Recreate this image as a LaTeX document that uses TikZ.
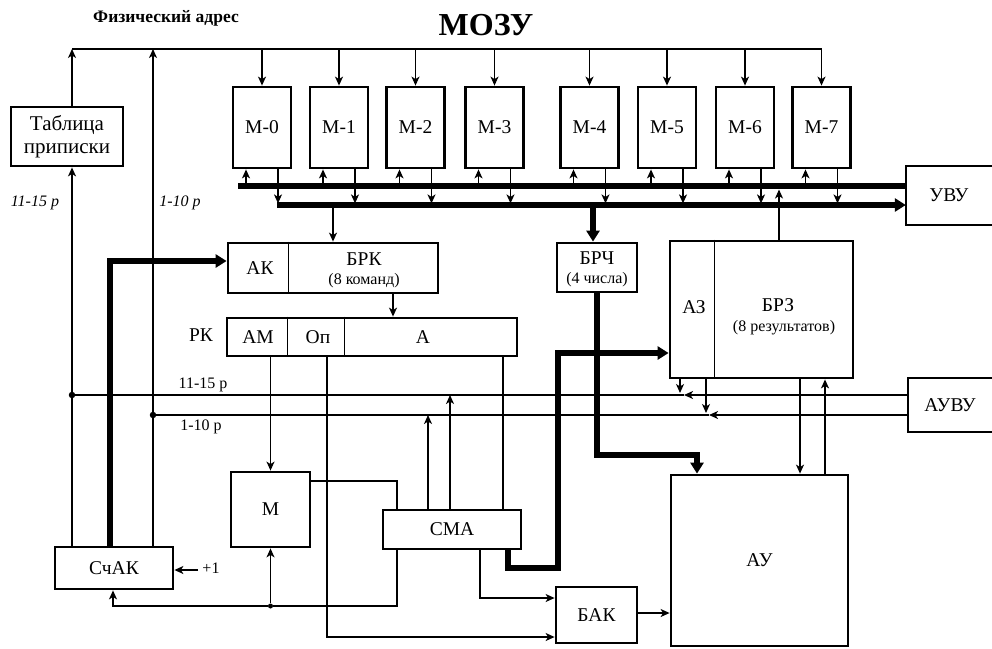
\documentclass[tikz,border=0pt]{standalone}
\usepackage{fontspec}
\setmainfont{Liberation Serif}
\usetikzlibrary{arrows.meta,calc}
\begin{document}
\begin{tikzpicture}[x=1pt,y=-1pt,
  box/.style={draw,line width=2.8pt,rectangle,inner sep=0pt},
  lbl/.style={font=\fontsize{19.5}{21}\selectfont,inner sep=0pt},
  sub/.style={font=\fontsize{16}{18}\selectfont,inner sep=0pt},
  ln/.style={line width=1.4pt},
  arr/.style={line width=1.4pt,-{Stealth[length=9pt,width=8pt,inset=2.5pt]}},
  thk/.style={line width=6pt},
  tarr/.style={line width=6pt,-{Triangle[length=11pt,width=13pt]}},
  dot/.style={circle,fill,inner sep=0pt,minimum size=6.5pt},
  rlab/.style={font=\fontsize{16}{18}\selectfont,inner sep=0pt},
  rlabi/.style={font=\itshape\fontsize{16}{18}\selectfont,inner sep=0pt},
]
\useasboundingbox (0,0) rectangle (992,648);

% titles
\node[font=\bfseries\fontsize{17.5}{19}\selectfont,inner sep=0pt] (ttl1) at (166,18) {Физический адрес};
\node[font=\bfseries\fontsize{32}{34}\selectfont,inner sep=0pt] (ttl2) at (486,25) {МОЗУ};

% memory modules
\foreach \n/\c in {0/262,1/339,2/415.5,3/494.5,4/589.5,5/667,6/745,7/821.5}
  \node[box,lbl,minimum width=58pt,minimum height=81pt] (m\n) at (\c,127.5) {М-\n};

% boxes
\node[box,align=center,font=\fontsize{21}{23}\selectfont,minimum width=112pt,minimum height=59pt] (tab) at (67,136.5) {Таблица\\приписки};
\node[box,lbl,minimum width=118pt,minimum height=42pt] (sch) at (114,568) {СчАК};
\node[box,minimum width=210pt,minimum height=50pt] (brk) at (333,268) {};
\node[box,minimum width=290pt,minimum height=38pt] (rk) at (372,337) {};
\node[box,minimum width=80pt,minimum height=49pt] (brch) at (597,267.5) {};
\node[box,minimum width=183pt,minimum height=137pt] (brz) at (761.5,309.5) {};
\node[box,lbl,minimum width=79pt,minimum height=75pt] (mm) at (270.5,509.5) {М};
\node[box,lbl,minimum width=138pt,minimum height=39pt] (cma) at (452,529.5) {СМА};
\node[box,lbl,minimum width=81pt,minimum height=56pt] (bak) at (596.5,615) {БАК};
\node[box,lbl,minimum width=177pt,minimum height=171pt] (au) at (759.5,560.5) {АУ};
\node[lbl,minimum width=86pt,minimum height=59pt] (uvu) at (949,195.5) {УВУ};
\draw[line width=1.8pt] (uvu.north east) -- (uvu.north west) -- (uvu.south west) -- (uvu.south east);
\node[lbl,minimum width=84pt,minimum height=54pt] (auvu) at (950,405) {АУВУ};
\draw[line width=1.8pt] (auvu.north east) -- (auvu.north west) -- (auvu.south west) -- (auvu.south east);

% dividers and inner texts
\draw[ln] ($(brk.north west)+(62,0)$) -- ($(brk.south west)+(62,0)$);
\node[lbl] (ak) at (260,268) {АК};
\node[lbl] (brkt) at (364,259) {БРК};
\node[sub] (brks) at (364,281) {(8 команд)};
\draw[ln] ($(rk.north west)+(62,0)$) -- ($(rk.south west)+(62,0)$);
\draw[ln] ($(rk.north west)+(119,0)$) -- ($(rk.south west)+(119,0)$);
\node[lbl] (am) at (258,337) {АМ};
\node[lbl] (op) at (318,337) {Оп};
\node[lbl] (afield) at (423,337) {А};
\node[lbl] (rkl) at (201,335) {РК};
\node[lbl] (brcht) at (597,258) {БРЧ};
\node[sub] (brchs) at (597,280) {(4 числа)};
\draw[ln] ($(brz.north west)+(46,0)$) -- ($(brz.south west)+(46,0)$);
\node[lbl] (az) at (694,307) {АЗ};
\node[lbl] (brzt) at (778,305) {БРЗ};
\node[sub] (brzs) at (784,328) {(8 результатов)};

% helper coordinates
\coordinate (xa) at (72,0);
\coordinate (xb) at (110,0);
\coordinate (xc) at (153,0);
\coordinate (tl) at (72,49);
\coordinate (ub) at (0,186);
\coordinate (lb) at (0,205);
\coordinate (ya) at (0,395);
\coordinate (yb) at (0,415);

% top address bus
\draw[line width=1.8pt] (tl) -- (m7.north |- tl);
\foreach \n in {0,...,7} {
  \draw[arr] (m\n.north |- tl) -- (m\n.north);
  \draw[arr] ($(m\n.south)+(-16,18)$) -- ($(m\n.south)+(-16,0)$);
  \draw[arr] ($(m\n.south)+(16,0)$) -- ($(m\n.south)+(16,34)$);
}
\draw[arr] (tab.north -| xa) -- (tl);
\draw[arr] (sch.north -| xa) -- (tab.south -| xa);
\draw[arr] (sch.north -| xc) -- (xc |- tl);
\node[rlabi] (l1115a) at (35,203) {11-15 р};
\node[rlabi] (l110a) at (180,203) {1-10 р};

% data buses
\draw[thk] (238,186) -- (uvu.west |- ub);
\draw[tarr] (277,205) -- (uvu.west |- lb);
\draw[arr] (brk.north |- lb) -- (brk.north);
\draw[tarr] (593,205) -- (brch.north -| 593,0);
\draw[arr] (brz.north -| 779,0) -- (779,189.5);

% counter to AK
\draw[tarr] (sch.north -| xb) -- (110,261) -- (brk.west |- 0,261);
\coordinate (p1) at (198,570);
\draw[arr] (p1) -- (sch.east |- p1);
\node[rlab] (plus) at (211,568) {+1};

% address lines 11-15 and 1-10
\node[dot] (d1) at (xa |- ya) {};
\node[dot] (d2) at (xc |- yb) {};
\coordinate (ja) at (684,395);
\coordinate (jb) at (709,415);
\draw[arr] (auvu.west |- ya) -- (ja);
\draw[ln] (ja) -- (d1);
\draw[arr] (auvu.west |- yb) -- (jb);
\draw[ln] (jb) -- (d2);
\draw[arr] (brz.south -| 680,0) -- (680,393);
\draw[arr] (brz.south -| 706,0) -- (706,413);
\node[rlab] (l1115b) at (203,385) {11-15 р};
\node[rlab] (l110b) at (201,427) {1-10 р};

% РК outputs
\draw[arr] (brk.south -| 393,0) -- (rk.north -| 393,0);
\draw[arr] (rk.south -| mm.north) -- (mm.north);
\draw[arr] (rk.south -| 327,0) -- (327,637) -- (bak.west |- 0,637);
\draw[ln] (rk.south -| 503,0) -- (cma.north -| 503,0);

% СМА connections
\draw[arr] (cma.north -| 428,0) -- (428,415);
\draw[arr] (cma.north -| 450,0) -- (450,395);
\draw[ln] (mm.east |- 0,481) -- (397,481) -- (cma.north -| 397,0);
\node[dot,minimum size=5pt] (d3) at (mm.south |- 0,606) {};
\draw[ln] (cma.south -| 397,0) -- (397,606) -- (d3);
\draw[arr] (d3) -- (113,606) -- (sch.south -| 113,0);
\draw[arr] (d3) -- (mm.south);
\draw[arr] (cma.south -| 480,0) -- (480,598) -- (bak.west |- 0,598);
\draw[tarr] (cma.south -| 508,0) -- (508,568) -- (558,568) -- (558,353) -- (brz.west |- 0,353);

% БРЧ, БАК, АУ, БРЗ
\draw[tarr] (brch.south) -- (597,455) -- (697,455) -- (au.north -| 697,0);
\draw[arr] (bak.east |- 0,613) -- (au.west |- 0,613);
\draw[arr] (brz.south -| 800,0) -- (au.north -| 800,0);
\draw[arr] (au.north -| 825,0) -- (brz.south -| 825,0);
\end{tikzpicture}
\end{document}
